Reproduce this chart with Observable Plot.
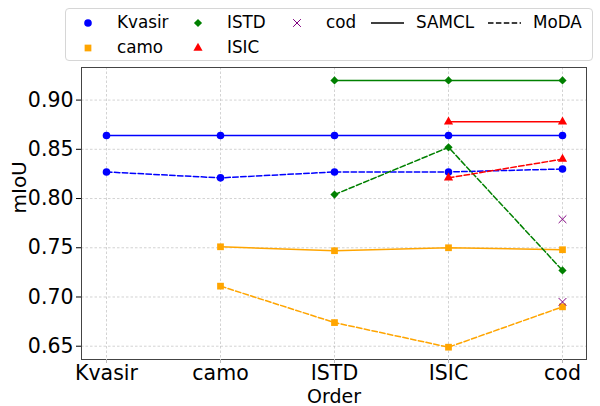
<!DOCTYPE html>
<html>
<head>
<meta charset="utf-8">
<script src="https://cdn.jsdelivr.net/npm/d3@7"></script>
<script src="https://cdn.jsdelivr.net/npm/@observablehq/plot@0.6"></script>
<style>
  html, body { margin: 0; padding: 0; background: #fff; }
  #wrap { position: relative; width: 600px; height: 406px; font-family: "DejaVu Sans", sans-serif; }
  #wrap svg.plot { position: absolute; left: 0; top: 0; }
  #legend { position: absolute; left: 65px; top: 8px; width: 528px; height: 53px; border: 1px solid #d6d6d6; border-radius: 4px; background: rgba(255,255,255,0.8); box-sizing: border-box; }
  .item { position: absolute; font-size: 16.8px; line-height: 20px; color: #000; white-space: nowrap; }
</style>
</head>
<body>
<div id="wrap"></div>
<script>
// ---- data ----
const orders = ["Kvasir", "camo", "ISTD", "ISIC", "cod"];
const datasets = ["Kvasir", "camo", "ISTD", "ISIC", "cod"];
const datasetColors = ["blue", "orange", "green", "red", "purple"];
const datasetSymbols = ["circle", "square", "diamond2", "triangle", "times"];
const methods = ["SAMCL", "MoDA"];

const kvasirSAMCL = [0.864, 0.864, 0.864, 0.864, 0.864];
const kvasirMoDA  = [0.827, 0.821, 0.827, 0.827, 0.830];
const camoSAMCL   = [null, 0.751, 0.747, 0.750, 0.748];
const camoMoDA    = [null, 0.711, 0.674, 0.649, 0.690];
const istdSAMCL   = [null, null, 0.920, 0.920, 0.920];
const istdMoDA    = [null, null, 0.804, 0.852, 0.727];
const isicSAMCL   = [null, null, null, 0.878, 0.878];
const isicMoDA    = [null, null, null, 0.821, 0.840];
const codSAMCL    = [null, null, null, null, 0.779];
const codMoDA     = [null, null, null, null, 0.695];

const yTicks = [0.65, 0.70, 0.75, 0.80, 0.85, 0.90];

const seriesTable = {
  Kvasir: {SAMCL: kvasirSAMCL, MoDA: kvasirMoDA},
  camo:   {SAMCL: camoSAMCL,   MoDA: camoMoDA},
  ISTD:   {SAMCL: istdSAMCL,   MoDA: istdMoDA},
  ISIC:   {SAMCL: isicSAMCL,   MoDA: isicMoDA},
  cod:    {SAMCL: codSAMCL,    MoDA: codMoDA}
};

const rows = [];
for (const ds of datasets) {
  for (const m of methods) {
    seriesTable[ds][m].forEach((v, i) => {
      if (v != null) rows.push({order: orders[i], value: v, dataset: ds, method: m});
    });
  }
}

const dashes = {SAMCL: null, MoDA: "5.5,2.4"};
const symR = {circle: 3.8, square: 3.8, diamond2: 3.7, triangle: 3.4, times: 3.6};

const marks = [
  Plot.gridX(orders, {stroke: "#b0b0b0", strokeOpacity: 0.7, strokeDasharray: "2.5,2", strokeWidth: 0.8}),
  Plot.gridY(yTicks, {stroke: "#b0b0b0", strokeOpacity: 0.7, strokeDasharray: "2.5,2", strokeWidth: 0.8}),
];
for (const m of methods) {
  for (const ds of datasets) {
    const data = rows.filter(r => r.method === m && r.dataset === ds);
    if (data.length > 1) {
      marks.push(Plot.line(data, {x: "order", y: "value", stroke: datasetColors[datasets.indexOf(ds)], strokeWidth: 1.5, strokeDasharray: dashes[m]}));
    }
  }
}
datasets.forEach((ds, k) => {
  const data = rows.filter(r => r.dataset === ds);
  const sym = datasetSymbols[k];
  const isStroke = sym === "times";
  marks.push(Plot.dot(data, {
    x: "order", y: "value", symbol: () => sym, r: symR[sym],
    fill: isStroke ? "none" : datasetColors[k],
    stroke: isStroke ? datasetColors[k] : "none",
    strokeWidth: isStroke ? 1 : 0
  }));
});
marks.push(Plot.frame({stroke: "#444", strokeWidth: 1}));
marks.push(Plot.axisX(orders, {fontSize: 20.5, tickSize: 4, tickPadding: 2, stroke: "#bbb", label: null}));
marks.push(Plot.axisY(yTicks, {fontSize: 20.5, tickSize: 5, tickPadding: 3, tickFormat: d3.format(".2f"), label: null}));
marks.push(Plot.text(["Order"], {frameAnchor: "bottom", lineAnchor: "middle", dy: 37, fontSize: 19, fill: "#000"}));
marks.push(Plot.text(["mIoU"], {frameAnchor: "left", dx: -62, rotate: -90, fontSize: 20, fill: "#000"}));

const chart = Plot.plot({
  width: 600,
  height: 406,
  marginLeft: 81,
  marginRight: 14,
  marginTop: 67,
  marginBottom: 47,
  style: {fontFamily: "DejaVu Sans, sans-serif", color: "#000", background: "#fff", overflow: "visible"},
  x: {type: "point", domain: orders, padding: 0.2},
  y: {domain: [0.6365, 0.9331]},
  symbol: {domain: datasetSymbols, range: datasetSymbols},
  marks
});
chart.classList.add("plot");
const wrap = document.getElementById("wrap");
wrap.appendChild(chart);

// ---- legend ----
const legend = document.createElement("div");
legend.id = "legend";
wrap.appendChild(legend);
const colX = [22, 132, 231, 305, 422];   // relative to legend box
const rowY = [14, 39];
const entries = [];
datasets.forEach((ds, k) => entries.push({kind: "sym", label: ds, k}));
methods.forEach(m => entries.push({kind: "line", label: m, m}));
const slots = [[0,0],[0,1],[1,0],[1,1],[2,0],[3,0],[4,0]];
entries.forEach((e, i) => {
  const [c, r] = slots[i];
  const cx = colX[c], cy = rowY[r];
  const ns = "http://www.w3.org/2000/svg";
  const s = document.createElementNS(ns, "svg");
  s.setAttribute("width", 36); s.setAttribute("height", 20);
  s.style.position = "absolute";
  if (e.kind === "sym") {
    s.style.left = (cx - 10) + "px"; s.style.top = (cy - 10) + "px";
    const sym = datasetSymbols[e.k];
    const map = {circle: d3.symbolCircle, square: d3.symbolSquare, diamond2: d3.symbolDiamond2, triangle: d3.symbolTriangle, times: d3.symbolTimes};
    const p = document.createElementNS(ns, "path");
    p.setAttribute("d", d3.symbol(map[sym], Math.PI * symR[sym] * symR[sym])());
    p.setAttribute("transform", "translate(10,10)");
    if (sym === "times") { p.setAttribute("fill", "none"); p.setAttribute("stroke", datasetColors[e.k]); p.setAttribute("stroke-width", 1); }
    else p.setAttribute("fill", datasetColors[e.k]);
    s.appendChild(p);
    legend.appendChild(s);
    const t = document.createElement("div");
    t.className = "item"; t.textContent = e.label;
    t.style.left = (cx + 29) + "px"; t.style.top = (cy - 11) + "px";
    legend.appendChild(t);
  } else {
    s.style.left = cx + "px"; s.style.top = (cy - 10) + "px";
    const l = document.createElementNS(ns, "line");
    l.setAttribute("x1", 0); l.setAttribute("x2", 33); l.setAttribute("y1", 10); l.setAttribute("y2", 10);
    l.setAttribute("stroke", "#000"); l.setAttribute("stroke-width", 1.5);
    if (dashes[e.m]) l.setAttribute("stroke-dasharray", dashes[e.m]);
    s.appendChild(l);
    legend.appendChild(s);
    const t = document.createElement("div");
    t.className = "item"; t.textContent = e.label;
    t.style.left = (cx + 45) + "px"; t.style.top = (cy - 11) + "px";
    legend.appendChild(t);
  }
});
</script>
</body>
</html>
